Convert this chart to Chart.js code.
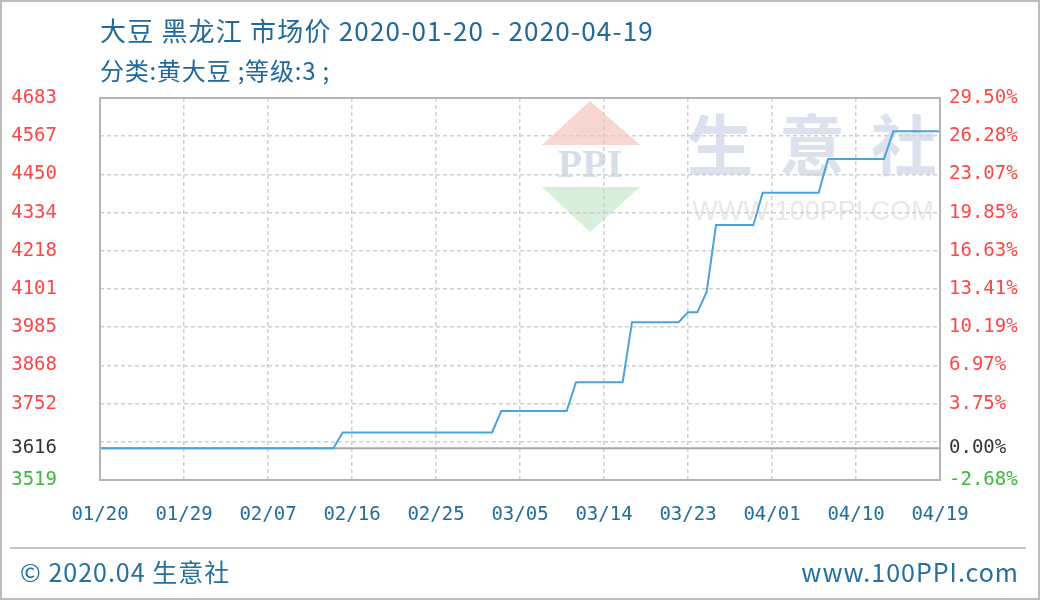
<!DOCTYPE html>
<html>
<head>
<meta charset="utf-8">
<script src="https://cdn.jsdelivr.net/npm/chart.js@4"></script>
<style>
  body { margin: 0; background: #fff; }
  #frame { position: absolute; left: 0; top: 0; width: 1036px; height: 596px; border: 2px solid #bdbdbd; }
  #chart { position: absolute; left: 0; top: 0; }
  .title { position: absolute; left: 100px; color: #22699b; font-family: "Noto Sans CJK SC", sans-serif; white-space: nowrap; }
  #t1 { top: 11px; font-size: 26px; letter-spacing: 1.2px; }
  #t2 { top: 52px; font-size: 24px; letter-spacing: 0.8px; }
  #sep { position: absolute; left: 10px; top: 547px; width: 1016px; height: 2px; background: #c4c4c4; }
  .foot { position: absolute; top: 553px; font-size: 25px; letter-spacing: 1px; color: #24709e; font-family: "Noto Sans CJK SC", sans-serif; white-space: nowrap; }
</style>
</head>
<body>
<div id="frame"></div>
<canvas id="chart" width="1040" height="600"></canvas>
<div class="title" id="t1">大豆 黑龙江 市场价 2020-01-20 - 2020-04-19</div>
<div class="title" id="t2">分类:黄大豆 ;等级:3 ;</div>
<div id="sep"></div>
<div class="foot" style="left:20px">© 2020.04 生意社</div>
<div class="foot" style="right:21px">www.100PPI.com</div>
<script>
// Price steps (day index from 2020-01-20, price)
const stepDays   = [0, 25, 26, 42, 43, 50, 51, 56, 57, 62, 63, 64, 65, 66, 70, 71, 77, 78, 84, 85, 90];
const stepPrices = [3616, 3616, 3664, 3664, 3729, 3729, 3817, 3817, 4000, 4000, 4030, 4030, 4092, 4296, 4296, 4394, 4394, 4497, 4497, 4582, 4582];

// X ticks every 9 days
const xTickDays   = [0, 9, 18, 27, 36, 45, 54, 63, 72, 81, 90];
const xTickLabels = ['01/20', '01/29', '02/07', '02/16', '02/25', '03/05', '03/14', '03/23', '04/01', '04/10', '04/19'];

// Y grid / labels
const basePrice   = 3616;
const yMin = 3519, yMax = 4683;
const yGridValues = [4683, 4566.6, 4450.2, 4333.8, 4217.4, 4101, 3984.6, 3868.2, 3751.8, 3635.4, 3519];
const yLeftLabels = ['4683', '4567', '4450', '4334', '4218', '4101', '3985', '3868', '3752', '', '3519'];
const yRightLabels = ['29.50%', '26.28%', '23.07%', '19.85%', '16.63%', '13.41%', '10.19%', '6.97%', '3.75%', '', '-2.68%'];
const baseLeftLabel = '3616', baseRightLabel = '0.00%';

const tickFont = { family: 'DejaVu Sans Mono', size: 19 };
const gridDash = [4, 3];

function yTicks(scale) {
    scale.ticks = yGridValues.concat([basePrice]).map(v => ({ value: v }));
}
function yColor(ctx) {
    const v = ctx.tick && ctx.tick.value;
    if (v === basePrice) return '#333333';
    if (v === yMin) return '#3cb83c';
    return '#ff4646';
}

// Watermark, baseline, frame
const decor = {
    id: 'decor',
    beforeDraw(chart) {
        const c = chart.ctx, a = chart.chartArea;
        c.save();
        // logo
        const lx = a.left + 490;
        c.fillStyle = '#f8d6d2';
        c.beginPath(); c.moveTo(lx - 48, a.top + 47); c.lineTo(lx, a.top + 3); c.lineTo(lx + 50, a.top + 47); c.closePath(); c.fill();
        c.fillStyle = '#d7ddeb';
        c.font = 'bold 40px "Liberation Serif"';
        c.textAlign = 'center'; c.textBaseline = 'middle';
        c.fillText('PPI', lx, a.top + 69);
        c.fillStyle = '#d8f0db';
        c.beginPath(); c.moveTo(lx - 48, a.top + 89); c.lineTo(lx + 50, a.top + 89); c.lineTo(lx, a.top + 134); c.closePath(); c.fill();
        // 生意社
        c.fillStyle = '#dce2ed';
        c.font = 'bold 66px "Noto Sans CJK SC"';
        ['生', '意', '社'].forEach((ch, i) => c.fillText(ch, a.left + 620 + i * 92, a.top + 47));
        c.fillStyle = '#e8e8e8';
        c.font = '27px "Liberation Sans"';
        c.fillText('WWW.100PPI.COM', a.left + 713, a.top + 115);
        c.restore();
    },
    beforeDatasetsDraw(chart) {
        const c = chart.ctx, a = chart.chartArea;
        const y = chart.scales.y.getPixelForValue(basePrice);
        c.save();
        c.strokeStyle = '#a8a8a8'; c.lineWidth = 2;
        c.beginPath(); c.moveTo(a.left, y); c.lineTo(a.right, y); c.stroke();
        c.restore();
    },
    afterDraw(chart) {
        const c = chart.ctx, a = chart.chartArea;
        c.save();
        c.strokeStyle = '#b4b4b4'; c.lineWidth = 2;
        c.strokeRect(a.left, a.top, a.right - a.left, a.bottom - a.top);
        c.restore();
    }
};

new Chart(document.getElementById('chart'), {
    type: 'line',
    data: {
        datasets: [{
            data: stepDays.map((d, i) => ({ x: d, y: stepPrices[i] })),
            borderColor: '#4aa3df',
            borderWidth: 2,
            pointRadius: 0,
            tension: 0,
            fill: false
        }]
    },
    options: {
        responsive: false,
        animation: false,
        layout: { padding: { top: 98, bottom: 60, left: 0, right: 0 } },
        plugins: { legend: { display: false }, tooltip: { enabled: false } },
        scales: {
            x: {
                type: 'linear', min: 0, max: 90,
                afterBuildTicks: s => { s.ticks = xTickDays.map(v => ({ value: v })); },
                afterFit: s => { s.height = 60; },
                ticks: {
                    autoSkip: false, maxRotation: 0, padding: 24,
                    color: '#1f6d9c', font: tickFont,
                    callback: (v, i) => xTickLabels[i]
                },
                grid: {
                    drawTicks: false, lineWidth: 1.5,
                    color: ctx => (ctx.tick && (ctx.tick.value === 0 || ctx.tick.value === 90)) ? 'rgba(0,0,0,0)' : '#cfcfcf'
                },
                border: { display: false, dash: gridDash }
            },
            y: {
                position: 'left', min: yMin, max: yMax,
                afterBuildTicks: yTicks,
                afterFit: s => { s.width = 100; },
                ticks: {
                    autoSkip: false, padding: 43, color: yColor, font: tickFont,
                    callback: (v, i) => i < yLeftLabels.length ? yLeftLabels[i] : baseLeftLabel
                },
                grid: {
                    drawTicks: false, lineWidth: 1.5,
                    color: ctx => (ctx.tick && [basePrice, yMin, yMax].includes(ctx.tick.value)) ? 'rgba(0,0,0,0)' : '#cfcfcf'
                },
                border: { display: false, dash: gridDash }
            },
            y2: {
                position: 'right', min: yMin, max: yMax,
                afterBuildTicks: yTicks,
                afterFit: s => { s.width = 100; },
                ticks: {
                    autoSkip: false, padding: 9, color: yColor, font: tickFont,
                    callback: (v, i) => i < yRightLabels.length ? yRightLabels[i] : baseRightLabel
                },
                grid: { display: false, drawTicks: false },
                border: { display: false }
            }
        }
    },
    plugins: [decor]
});
</script>
</body>
</html>
